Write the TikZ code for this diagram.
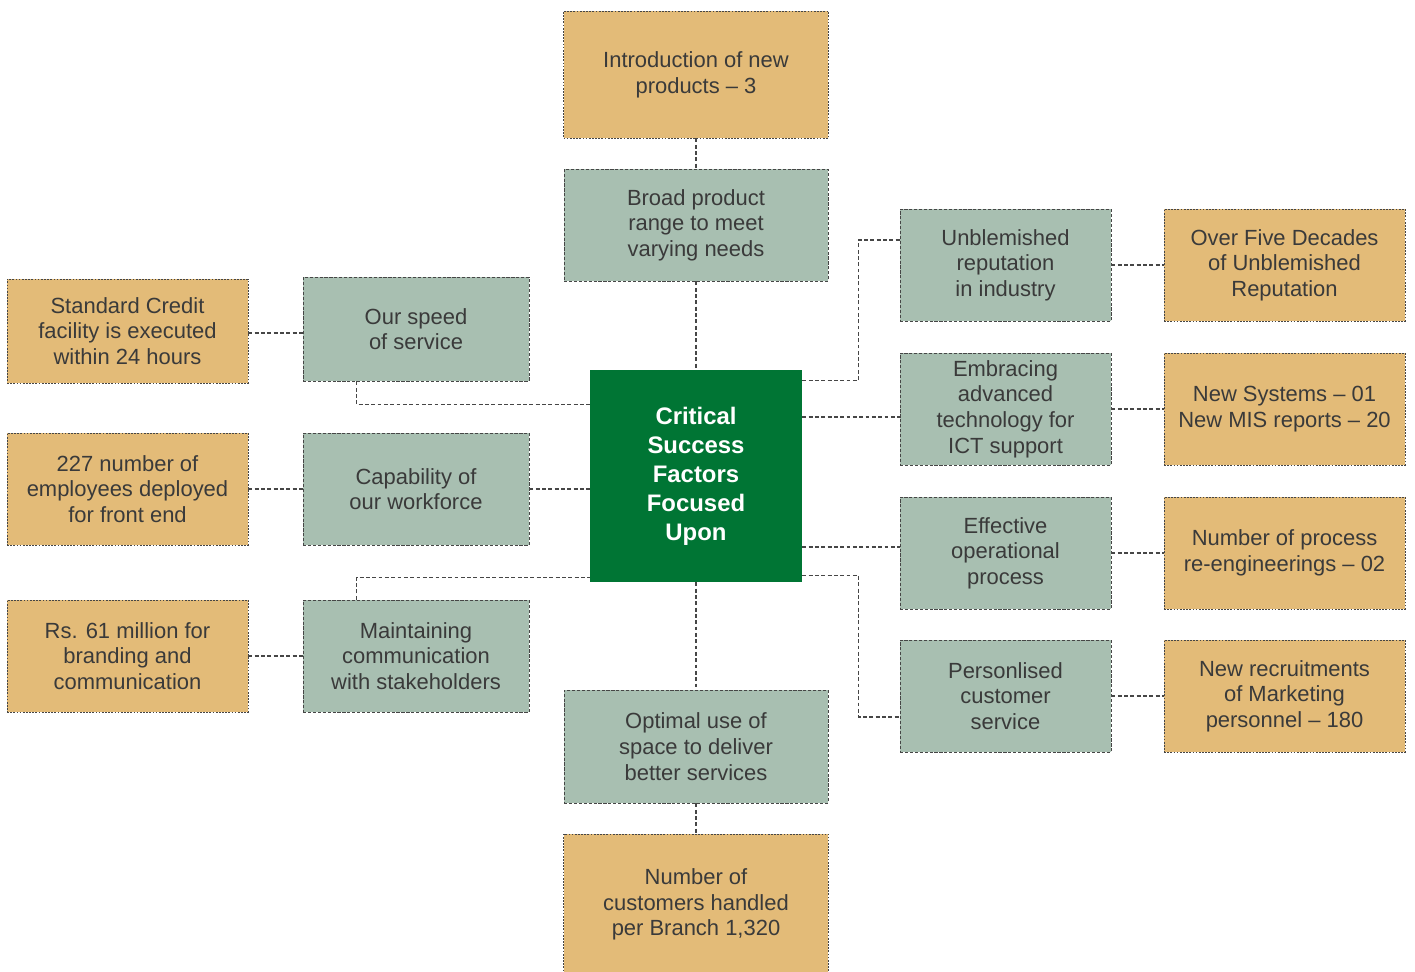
\documentclass[tikz,border=0pt]{standalone}
\usepackage{fontspec}
\setmainfont{Liberation Sans}
\usetikzlibrary{positioning}
\definecolor{csfgreen}{RGB}{0, 117, 52}
\definecolor{kpiorange}{RGB}{227, 187, 120}
\definecolor{factorgrey}{RGB}{168, 191, 177}
\definecolor{inkgrey}{RGB}{58, 58, 58}
\definecolor{edgegrey}{RGB}{70, 70, 70}

\begin{document}
\begin{tikzpicture}[x=0.02cm, y=-0.02cm,
  boxtext/.style={align=center, inner sep=0pt, text=inkgrey,
    font=\fontsize{12.5}{14.6}\selectfont},
  kpi/.style={boxtext, fill=kpiorange, draw=edgegrey, line width=0.5pt,
    dash pattern=on 1pt off 0.8pt, minimum width=4.82cm, minimum height=2.24cm},
  factor/.style={boxtext, fill=factorgrey, draw=edgegrey, line width=0.5pt,
    dash pattern=on 1.8pt off 1pt, minimum width=4.52cm, minimum height=2.24cm},
  core/.style={fill=csfgreen, text=white, align=center, inner sep=0pt,
    minimum width=4.24cm, minimum height=4.24cm,
    font=\bfseries\fontsize{13.6}{16.5}\selectfont},
  link/.style={draw=edgegrey, line width=0.7pt, dash pattern=on 2.2pt off 1.4pt}]
  \useasboundingbox (0,0) rectangle (1415,971);

  % hub
  \node[core] (core) at (696,476) {Critical\\Success\\Factors\\Focused\\Upon};

  % top and bottom chains
  \node[kpi, minimum width=5.3cm, minimum height=2.54cm] (intro) at (696,74.5) {Introduction of new\\products -- 3};
  \node[factor, minimum width=5.28cm] (range) at (696,225) {Broad product\\range to meet\\varying needs};
  \node[factor, minimum width=5.28cm, minimum height=2.26cm] (space) at (696,746.5) {Optimal use of\\space to deliver\\better services};
  \node[kpi, minimum width=5.3cm, minimum height=2.82cm] (branch) at (696,904.5) {Number of\\customers handled\\per Branch 1,320};

  % left column
  \node[factor, minimum height=2.08cm] (speed) at (416,329) {Our speed\\of service};
  \node[factor] (workforce) at (416,489) {Capability of\\our workforce};
  \node[factor] (stake) at (416,656) {Maintaining\\communication\\with stakeholders};
  \node[kpi, minimum height=2.08cm] (credit) at (127.5,331) {Standard Credit\\facility is executed\\within 24 hours};
  \node[kpi] (staff) at (127.5,489) {227 number of\\employees deployed\\for front end};
  \node[kpi] (brand) at (127.5,656) {Rs. 61 million for\\branding and\\communication};

  % right column
  \foreach \key/\ypos/\ftxt/\ktxt in {rep/265/{Unblemished\\reputation\\in industry}/{Over Five Decades\\of Unblemished\\Reputation}, ict/409/{Embracing\\advanced\\technology for\\ICT support}/{New Systems -- 01\\New MIS reports -- 20}, ops/553/{Effective\\operational\\process}/{Number of process\\re-engineerings -- 02}, care/696/{Personlised\\customer\\service}/{New recruitments\\of Marketing\\personnel -- 180}}{
    \node[factor, minimum width=4.22cm] (f\key) at (1005.5,\ypos) {\ftxt};
    \node[kpi] (k\key) at (1284.5,\ypos) {\ktxt};
    \draw[link] (f\key.east) -- (k\key.west);
  }

  % vertical links
  \draw[link] (intro) -- (range);
  \draw[link] (range) -- (core);
  \draw[link] (core) -- (space);
  \draw[link] (space) -- (branch);

  % left links
  \draw[link] ([yshift=-0.04cm]credit.east) -- ([yshift=-0.04cm]credit.east -| speed.west);
  \draw[link] (staff.east) -- (workforce.west);
  \draw[link] (brand.east) -- (stake.west);
  \draw[link] ([xshift=1.08cm]speed.south west) |- ([yshift=-0.7cm]core.north west);
  \draw[link] (workforce.east) -- (workforce.east -| core.west);
  \draw[link] ([xshift=1.08cm]stake.north west) |- ([yshift=0.1cm]core.south west);

  % right links
  \coordinate (ictin) at ([yshift=-0.16cm]fict.west);
  \coordinate (opsin) at ([yshift=0.12cm]fops.west);
  \draw[link] ([yshift=-0.22cm]core.north east) -| ([xshift=-0.82cm,yshift=0.5cm]frep.west) -- ([yshift=0.5cm]frep.west);
  \draw[link] (ictin -| core.east) -- (ictin);
  \draw[link] (opsin -| core.east) -- (opsin);
  \draw[link] ([yshift=0.14cm]core.south east) -| ([xshift=-0.82cm,yshift=-0.42cm]fcare.west) -- ([yshift=-0.42cm]fcare.west);
\end{tikzpicture}
\end{document}
